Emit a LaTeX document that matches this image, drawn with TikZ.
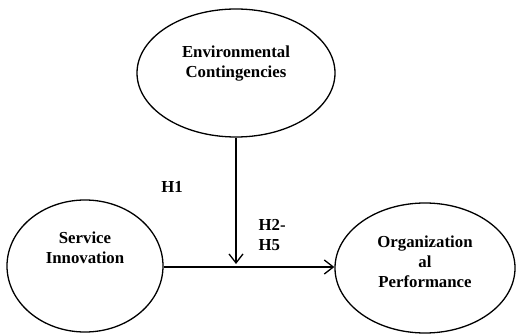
\documentclass[tikz,border=0pt]{standalone}
\usepackage{fontspec}
\setmainfont{Liberation Serif}
\usetikzlibrary{shapes.geometric,arrows.meta}
\begin{document}
\begin{tikzpicture}[x=1pt,y=-1pt,
  oval/.style={draw, ellipse, line width=1.3pt, inner sep=0pt},
  lbl/.style={font=\fontsize{16.8}{20}\selectfont\bfseries, align=center},
  conn/.style={line width=1.5pt, -{Straight Barb[length=9pt,width=14pt,line width=1.3pt]}}]
\useasboundingbox (0,0) rectangle (516,334);
\node[oval, minimum width=198pt, minimum height=128pt] (env) at (236,73) {};
\node[oval, minimum width=156pt, minimum height=132pt] (si) at (85,266) {};
\node[oval, minimum width=180pt, minimum height=130pt] (op) at (425,268) {};
\node[lbl] (envt) at (236,64) {Environmental\\Contingencies};
\node[lbl] (sit) at (85,248) {Service\\Innovation};
\node[lbl] (opt) at (425,262) {Organization\\al\\Performance};
\node[lbl] (h1) at (172,187) {H1};
\node[lbl, align=left, anchor=west] (h2) at (255,235) {H2-\\H5};
\coordinate (meet) at (236,264);
\draw[conn] (si.east |- 0,267) -- (op.west |- 0,267);
\draw[conn] (env.south) -- (meet);
\end{tikzpicture}
\end{document}
